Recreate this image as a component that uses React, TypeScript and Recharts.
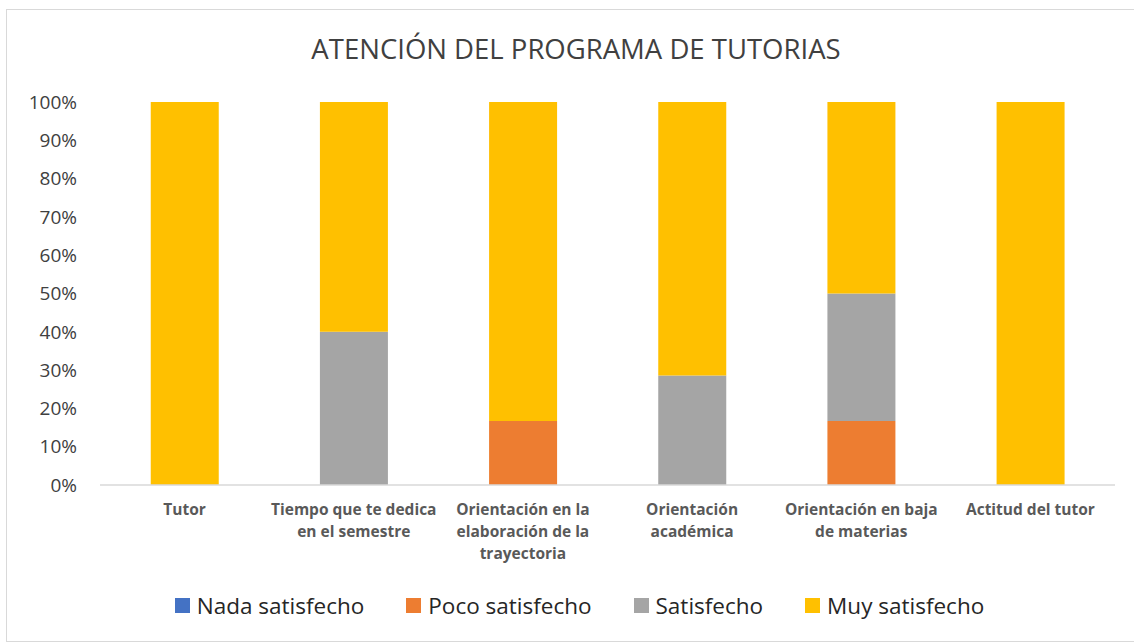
import { BarChart, Bar, XAxis, YAxis, Legend } from 'recharts'

const categorias = [
  'Tutor',
  'Tiempo que te dedica en el semestre',
  'Orientación en la elaboración de la trayectoria',
  'Orientación académica',
  'Orientación en baja de materias',
  'Actitud del tutor',
]

// como se parten las etiquetas en el eje X
const etiquetas: Record<string, string[]> = {
  'Tutor': ['Tutor'],
  'Tiempo que te dedica en el semestre': ['Tiempo que te dedica', 'en el semestre'],
  'Orientación en la elaboración de la trayectoria': ['Orientación en la', 'elaboración de la', 'trayectoria'],
  'Orientación académica': ['Orientación', 'académica'],
  'Orientación en baja de materias': ['Orientación en baja', 'de materias'],
  'Actitud del tutor': ['Actitud del tutor'],
}

const nada = [0, 0, 0, 0, 0, 0]
const poco = [0, 0, 16.7, 0, 16.7, 0]
const satisfecho = [0, 40, 0, 28.6, 33.3, 0]
const muy = [100, 60, 83.3, 71.4, 50, 100]

const yTicks = [0, 10, 20, 30, 40, 50, 60, 70, 80, 90, 100]

const series = [
  { key: 'nada', nombre: 'Nada satisfecho', color: '#4472C4' },
  { key: 'poco', nombre: 'Poco satisfecho', color: '#ED7D31' },
  { key: 'satisfecho', nombre: 'Satisfecho', color: '#A5A5A5' },
  { key: 'muy', nombre: 'Muy satisfecho', color: '#FFC000' },
]

const datos = categorias.map((c, i) => ({
  cat: c,
  nada: nada[i],
  poco: poco[i],
  satisfecho: satisfecho[i],
  muy: muy[i],
}))

const FUENTE = '"Open Sans", "Noto Sans", sans-serif'

function TickX({ x, y, payload }: any) {
  const lineas = etiquetas[payload.value] || [payload.value]
  return (
    <text x={x} y={y} textAnchor="middle" fill="#595959" fontSize={15.5} fontWeight="bold" fontFamily={FUENTE}>
      {lineas.map((l, i) => (
        <tspan key={i} x={x} dy={22}>{l}</tspan>
      ))}
    </text>
  )
}

function Leyenda() {
  return (
    <div style={{ display: 'flex', justifyContent: 'center', gap: 42, fontFamily: FUENTE, fontSize: 22.5, color: '#262626', marginLeft: 44 }}>
      {series.map(s => (
        <div key={s.key} style={{ display: 'flex', alignItems: 'center', gap: 7 }}>
          <span style={{ width: 15, height: 15, background: s.color, display: 'inline-block' }} />
          <span>{s.nombre}</span>
        </div>
      ))}
    </div>
  )
}

export default function App() {
  return (
    <div style={{ position: 'absolute', left: 0, top: 0, width: 1134, height: 643, background: '#fff', overflow: 'hidden' }}>
      <div style={{ position: 'absolute', left: 6, top: 9, width: 1140, height: 631, border: '1px solid #d9d9d9' }} />
      <div style={{ position: 'absolute', left: 6, width: 1140, top: 30, textAlign: 'center', fontFamily: FUENTE, fontSize: 27.5, color: '#404040', paddingRight: 5 }}>
        ATENCIÓN DEL PROGRAMA DE TUTORIAS
      </div>
      <div style={{ position: 'absolute', left: 0, top: 0 }}>
        <BarChart width={1134} height={643} data={datos} margin={{ top: 102, right: 19, left: 0, bottom: 22 }} barCategoryGap="30%">
          <XAxis dataKey="cat" tick={<TickX />} tickLine={false} axisLine={{ stroke: '#d9d9d9', strokeWidth: 1.5 }} interval={0} height={105} />
          <YAxis width={100} domain={[0, 100]} ticks={yTicks} tickFormatter={v => `${v}%`} axisLine={false} tickLine={false} tickSize={0} tickMargin={23}
            tick={{ fill: '#404040', fontSize: 19, fontFamily: FUENTE }} />
          <Legend verticalAlign="bottom" content={<Leyenda />} />
          {series.map(s => (
            <Bar key={s.key} dataKey={s.key} name={s.nombre} stackId="a" fill={s.color} isAnimationActive={false} />
          ))}
        </BarChart>
      </div>
    </div>
  )
}
